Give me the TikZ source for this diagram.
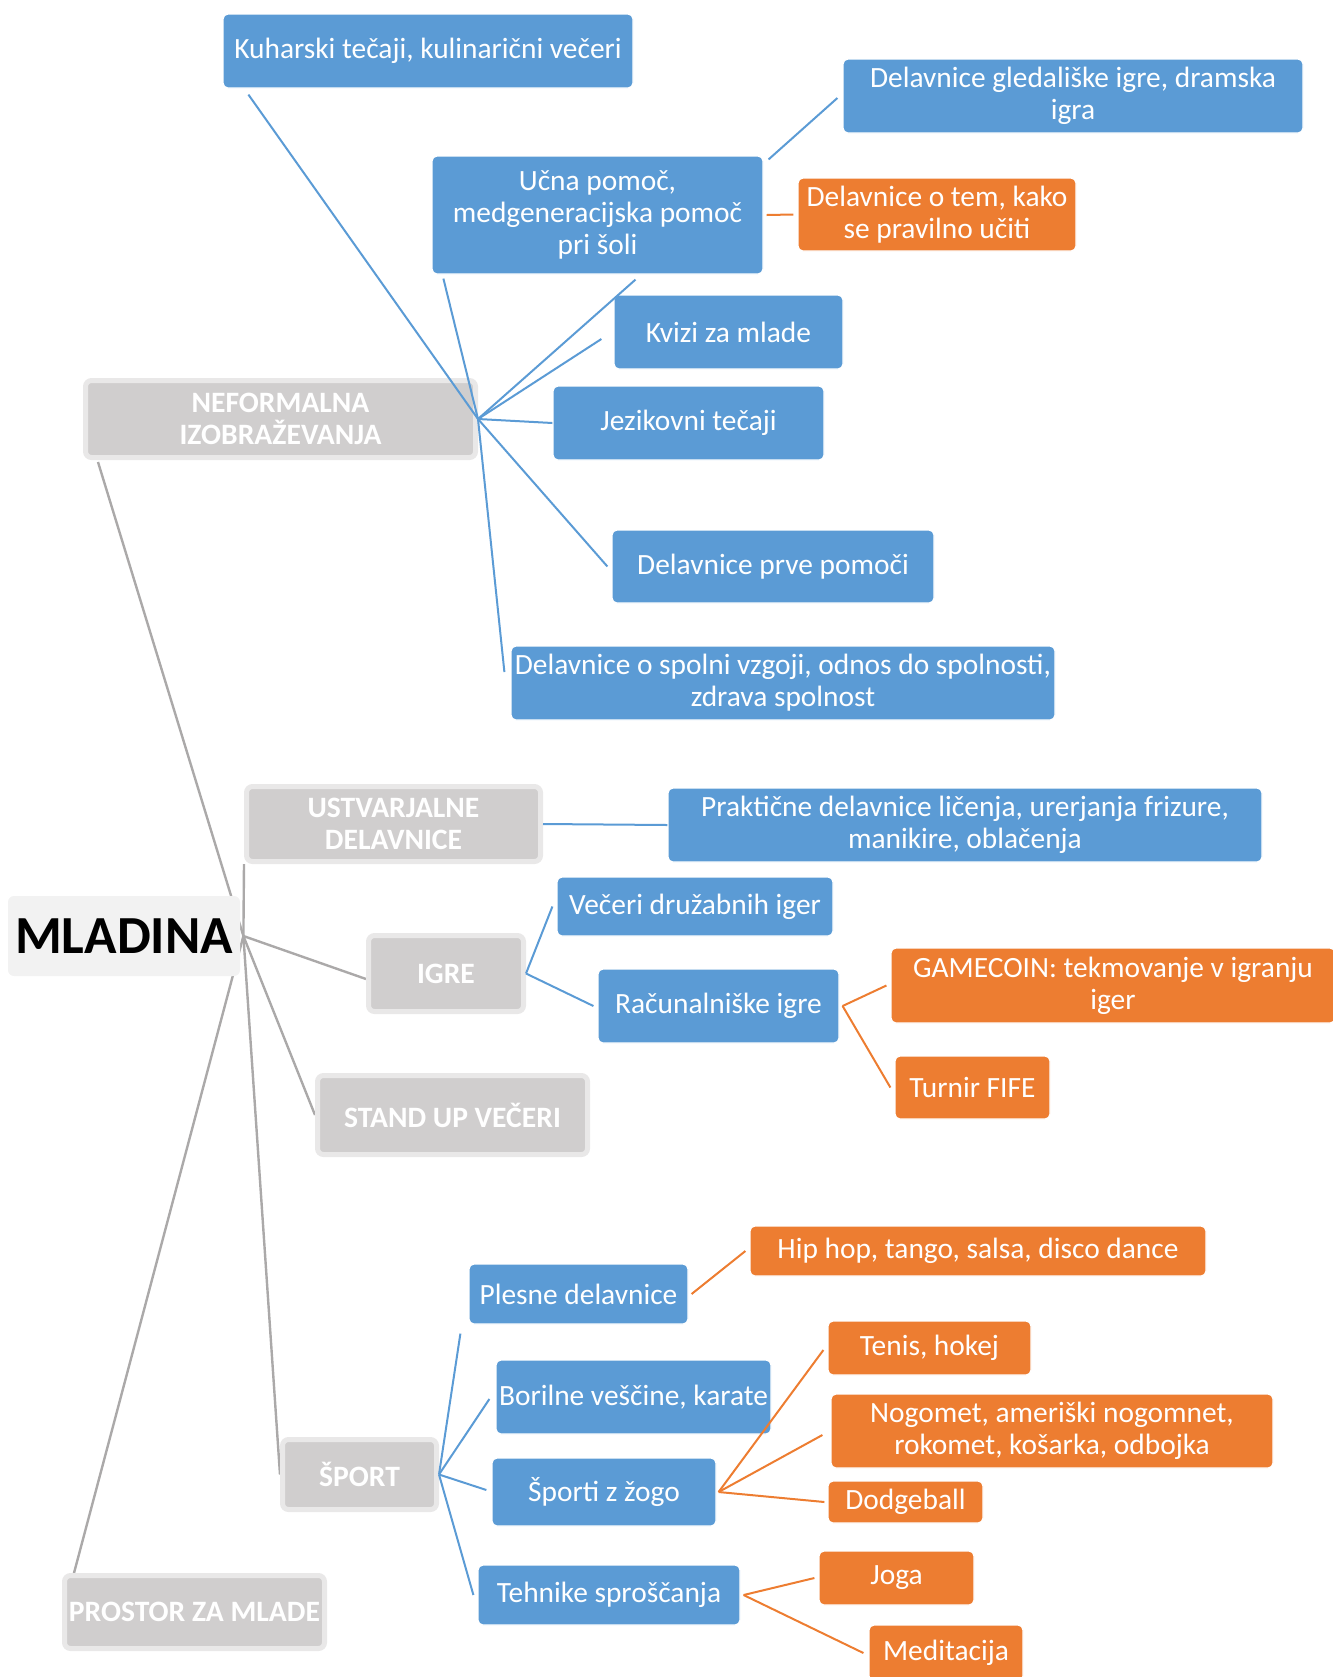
\documentclass[tikz,border=0pt]{standalone}
\usepackage{fontspec}
\setmainfont{Carlito}
\usetikzlibrary{positioning,backgrounds}

\definecolor{boxblue}{HTML}{5B9BD5}
\definecolor{boxorange}{HTML}{ED7D31}
\definecolor{boxgray}{HTML}{D0CECE}
\definecolor{rimgray}{HTML}{E9E8E8}
\definecolor{linegray}{HTML}{ABA9A9}
\definecolor{rootgray}{HTML}{F2F2F2}

\begin{document}
\begin{tikzpicture}[x=0.5pt,y=-0.5pt,
    every node/.style={inner sep=0pt,align=center},
    root/.style={fill=rootgray,rounded corners=3pt,font=\fontsize{26.8}{30}\selectfont\bfseries},
    topic/.style={fill=boxgray,draw=rimgray,line width=2.5pt,rounded corners=3pt,
      text=white,font=\fontsize{14.8}{16}\selectfont\bfseries},
    leaf/.style={fill=boxblue,draw=white,line width=0.6pt,rounded corners=2.5pt,
      text=white,font=\fontsize{14.7}{16}\selectfont},
    subleaf/.style={leaf,fill=boxorange},
    trunk/.style={draw=linegray,line width=1.2pt},
    branch/.style={draw=boxblue,line width=1pt},
    twig/.style={draw=boxorange,line width=1pt}]
  \useasboundingbox (0,0) rectangle (1333,1677);

  \node[root, minimum width=116pt, minimum height=40pt] (mladina) at (124,936) {MLADINA};

  \node[topic, minimum width=195pt, minimum height=38.5pt] (neform)  at (280.5,419)  {NEFORMALNA\\IZOBRAŽEVANJA};
  \node[topic, minimum width=147pt, minimum height=37.5pt] (ustvar)  at (393.5,824)  {USTVARJALNE\\DELAVNICE};
  \node[topic, minimum width=77.5pt, minimum height=38pt]  (igre)    at (446,973.5)  {IGRE};
  \node[topic, minimum width=135pt, minimum height=39.5pt] (standup) at (452.5,1115) {STAND UP VEČERI};
  \node[topic, minimum width=77pt, minimum height=35pt]    (sport)   at (359.5,1474.5) {ŠPORT};
  \node[topic, minimum width=130pt, minimum height=36.5pt] (prostor) at (194.5,1612) {PROSTOR ZA MLADE};

  \node[leaf, minimum width=205pt, minimum height=37pt]   (kuhar)  at (428,51)    {Kuharski tečaji, kulinarični večeri};
  \node[leaf, minimum width=230pt, minimum height=37pt]   (gled)   at (1073,96)   {Delavnice gledališke igre, dramska\\igra};
  \node[leaf, minimum width=165.5pt, minimum height=59pt] (ucna)   at (597.5,215) {Učna pomoč,\\medgeneracijska pomoč\\pri šoli};
  \node[subleaf, minimum width=139pt, minimum height=36.5pt] (ucenje) at (937,214.5) {Delavnice o tem, kako\\se pravilno učiti};
  \node[leaf, minimum width=114.5pt, minimum height=37pt] (kvizi)  at (728.5,332) {Kvizi za mlade};
  \node[leaf, minimum width=135.5pt, minimum height=37pt] (jezik)  at (688.5,423) {Jezikovni tečaji};
  \node[leaf, minimum width=161pt, minimum height=36.5pt] (prva)   at (773,566.5) {Delavnice prve pomoči};
  \node[leaf, minimum width=272pt, minimum height=37pt]   (spolni) at (783,683)   {Delavnice o spolni vzgoji, odnos do spolnosti,\\zdrava spolnost};

  \node[leaf, minimum width=297pt, minimum height=37pt]   (prakt)  at (965,825)   {Praktične delavnice ličenja, urerjanja frizure,\\manikire, oblačenja};

  \node[leaf, minimum width=138pt, minimum height=29.5pt] (vecer)  at (695,906.5) {Večeri družabnih iger};
  \node[leaf, minimum width=120.5pt, minimum height=37pt] (racun)  at (718.5,1006) {Računalniške igre};
  \node[subleaf, minimum width=222pt, minimum height=37.5pt] (gamecoin) at (1113,985.5) {GAMECOIN: tekmovanje v igranju\\iger};
  \node[subleaf, minimum width=77.5pt, minimum height=31.5pt] (fife) at (972.5,1087.5) {Turnir FIFE};

  \node[leaf, minimum width=109.5pt, minimum height=30pt] (plesne)  at (578.5,1294) {Plesne delavnice};
  \node[subleaf, minimum width=228pt, minimum height=25pt] (hiphop) at (978,1251)   {Hip hop, tango, salsa, disco dance};
  \node[leaf, minimum width=137.5pt, minimum height=37pt] (borilne) at (633.5,1397) {Borilne veščine, karate};
  \node[leaf, minimum width=112pt, minimum height=34pt]   (zoga)    at (604,1492)   {Športi z žogo};
  \node[subleaf, minimum width=101.5pt, minimum height=27pt] (tenis)   at (929.5,1348) {Tenis, hokej};
  \node[subleaf, minimum width=221pt, minimum height=37pt]   (nogomet) at (1052,1431)  {Nogomet, ameriški nogomnet,\\rokomet, košarka, odbojka};
  \node[subleaf, minimum width=77.5pt, minimum height=21pt]  (dodge)   at (905.5,1502) {Dodgeball};
  \node[leaf, minimum width=131pt, minimum height=30pt]   (tehnike) at (609,1595)   {Tehnike sproščanja};
  \node[subleaf, minimum width=77.5pt, minimum height=27pt]  (joga)    at (896.5,1578) {Joga};
  \node[subleaf, minimum width=77pt, minimum height=28pt]    (medit)   at (946,1653)   {Meditacija};

  \coordinate (mhub) at ([xshift=1.5pt]mladina.east);
  \coordinate (nhub) at (neform.east);

  \begin{scope}[on background layer]
    \draw[trunk] (mhub) -- ([xshift=7.5pt,yshift=-1pt]neform.south west);
    \draw[trunk] (mhub) -- (ustvar.south west);
    \draw[trunk] (mhub) -- ([yshift=-2.75pt]igre.west);
    \draw[trunk] (mhub) -- (standup.west);
    \draw[trunk] (mhub) -- (sport.west);
    \draw[trunk] (mhub) -- ([xshift=6pt]prostor.north west);
  \end{scope}

  \draw[branch] (nhub) -- ([xshift=13pt,yshift=-3pt]kuhar.south west);
  \draw[branch] (nhub) -- ([xshift=6pt,yshift=-2pt]ucna.south west);
  \draw[branch] (nhub) -- ([xshift=19pt,yshift=-2.5pt]ucna.south);
  \draw[branch] (nhub) -- ([xshift=-6pt,yshift=-3.5pt]kvizi.west);
  \draw[branch] (nhub) -- (jezik.west);
  \draw[branch] (nhub) -- ([xshift=-2pt]prva.west);
  \draw[branch] (nhub) -- ([xshift=-3pt,yshift=5.5pt]spolni.west);
  \draw[branch] ([xshift=2.5pt,yshift=-2pt]ucna.north east) -- ([xshift=-2.5pt,yshift=-1pt]gled.west);
  \draw[branch] (ustvar.east) -- (prakt.west);
  \draw[branch] (igre.east) -- ([xshift=-2pt]vecer.west);
  \draw[branch] (igre.east) -- ([xshift=-2pt]racun.west);
  \draw[branch] (sport.east) -- ([xshift=-4pt,yshift=-4.5pt]plesne.south west);
  \draw[branch] (sport.east) -- ([xshift=-3pt,yshift=-1pt]borilne.west);
  \draw[branch] (sport.east) -- ([xshift=-2.5pt,yshift=1pt]zoga.west);
  \draw[branch] (sport.east) -- ([xshift=-2pt]tehnike.west);

  \draw[twig] ([xshift=1.5pt]ucna.east) -- ([xshift=-2pt]ucenje.west);
  \draw[twig] ([xshift=1.5pt]racun.east) -- ([xshift=-2pt]gamecoin.west);
  \draw[twig] ([xshift=1.5pt]racun.east) -- ([xshift=-2pt]fife.west);
  \draw[twig] ([xshift=1.5pt]plesne.east) -- ([xshift=-2pt]hiphop.west);
  \draw[twig] ([xshift=1pt]zoga.east) -- ([xshift=-2pt,yshift=-1pt]tenis.west);
  \draw[twig] ([xshift=1pt]zoga.east) -- ([xshift=-4pt,yshift=-2pt]nogomet.west);
  \draw[twig] ([xshift=1pt]zoga.east) -- ([xshift=-1.5pt]dodge.west);
  \draw[twig] ([xshift=1.5pt]tehnike.east) -- ([xshift=-2pt]joga.west);
  \draw[twig] ([xshift=1.5pt]tehnike.east) -- ([xshift=-2.5pt]medit.west);
\end{tikzpicture}
\end{document}
